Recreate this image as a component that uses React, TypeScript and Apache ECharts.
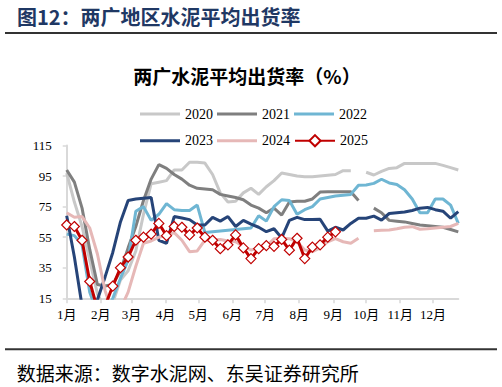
import React, { useEffect, useRef } from 'react';
import * as echarts from 'echarts';

const monthLabels = ['1月', '2月', '3月', '4月', '5月', '6月', '7月', '8月', '9月', '10月', '11月', '12月'];
const monthStartDays = [0, 31, 59, 90, 120, 151, 181, 212, 243, 273, 304, 334];
const yearNames = ['2020', '2021', '2022', '2023', '2024', '2025'];
const yearColors = ['#c8c8c8', '#7f7f7f', '#6fb6d3', '#264478', '#e6b8b7', '#c00000'];

type V = number | null;

const v2020: V[] = [97, 78, 62, 40, 18, 8, 12, 27, 33, 46,
  70, 90, 91, 92, 99, 99, 104, 104, 103.5, 96,
  84, 78, 78.5, 84, 87, 83, 88, 92, 97, 96,
  95, 94.5, 94.5, 95, 95.5, 96, 98.5, 98.5, null, 97.5,
  95.7, 98, 100, 100.5, 103.3, 103.3, 103.3, 103.3, 103.3, 102,
  100.5, 99];
const v2021: V[] = [99, 91, 74, 47, 24, 23, 24, 33, 48, 62,
  79, 93, 102.5, 100, 96, 93, 89, 87, 86.5, 86,
  83, 82, 81, 79.5, 76, 74, 71, 74, 69.5, 78,
  78.5, 78.5, 80, 84.5, 84.8, 84.8, 84.8, 84.8, 79, null,
  74, 71, 66, 65.5, 65, 64, 63, 62.5, 62, 61.5,
  60, 58.5];
const v2022: V[] = [57, 56, 50, 19, 5, 5, 15, 28, 40, 72,
  75, 66, 70, 77, 73, 72.5, 72.5, 76, 58, 58.5,
  59, 59.5, 60, 60.5, 61, 69, 65.5, 75, 79.5, 79,
  70, 73, 75, 80, 81, 82, 82.5, 83, 89, 89.2,
  90.2, 92.9, 90.5, 89.5, 86, 80, 71, 71, 80, 80,
  76, 64];
const v2023: V[] = [69, 42, 10, 0, 14, 29, 45, 65, 79, 80,
  80.5, 81, 53, 51, 68.5, 67.5, 66.5, 63, 63, 68,
  65.5, 68.5, 62, 66, 63.5, 61.5, 58.6, 60.5, 54.5, 66,
  68, 66.5, 66.5, 66.7, 59, 61.5, 59.7, 64, 67.4, 67.4,
  68.8, 66.2, 70.5, 71, 71.5, 72.5, 74, 74.5, 73, 72,
  67.4, 71.7];
const v2024: V[] = [71, 68, 68.5, 61, 44, 20, 5, 8, 19, 36,
  51, 52.5, 55, 56, 58, 53, 45.5, 46, 53, 53.2,
  53.5, 52.5, 52, 49, 46.6, 47.7, 49, 54, 54.3, 54,
  52, 46.6, 45.5, 48, 52, 54, 52, 51, 54.3, null,
  59.2, 59.5, 59.7, 60.5, 61.5, 61.9, 60.2, 60.5, 61, 61.5,
  62, 64];
const v2025: V[] = [63, 62, 53, 26, 8, 10, 23, 35, 42, 53,
  55, 57, 64, 56, 62, 61.5, 56.5, 61, 55, 53,
  47.5, 50, 56.5, 48, 41, 47.5, 49.5, 49, 53.5, 46.5,
  54.3, 41, 48.5, 50, 55, 58.5];

const yearValues = [v2020, v2021, v2022, v2023, v2024, v2025];

const SERIF = "'Liberation Serif', 'Noto Sans CJK SC', serif";
const CJK = "'Noto Sans CJK SC', sans-serif";
const LINE_ICON = 'path://M0,0 L40,0 L40,3 L0,3 Z';

export default function App() {
  const ref = useRef<HTMLDivElement>(null);
  useEffect(() => {
    if (!ref.current) return;
    const chart = echarts.init(ref.current, undefined, { renderer: 'svg' });
    const lastIdx = yearNames.length - 1;
    const series = yearNames.map((name, k) => {
      const vals = yearValues[k];
      const data = vals.map((v, i) => [i * 7, v == null ? '-' : v]);
      const isLast = k === lastIdx;
      return {
        name,
        type: 'line',
        data,
        color: yearColors[k],
        symbol: isLast ? 'diamond' : 'none',
        symbolSize: 10,
        showSymbol: isLast,
        itemStyle: isLast ? { color: '#ffffff', borderColor: yearColors[k], borderWidth: 1.2 } : { color: yearColors[k] },
        lineStyle: { color: yearColors[k], width: 3 },
        connectNulls: false,
        clip: true,
        z: 2 + k,
      };
    });
    const legendText = { fontFamily: SERIF, fontSize: 14, color: '#000' };
    const legendItems = (names: string[]) =>
      names.map((n) => (n === yearNames[lastIdx] ? { name: n } : { name: n, icon: LINE_ICON }));
    const legendBase = { left: 140, itemWidth: 40, itemHeight: 14, itemGap: 4, padding: 0, textStyle: legendText };
    chart.setOption({
      animation: false,
      grid: { left: 66.7, right: 43.7, top: 145.5, bottom: 88.7 },
      legend: [
        { ...legendBase, data: legendItems(yearNames.slice(0, 3)), top: 107 },
        { ...legendBase, data: legendItems(yearNames.slice(3)), top: 133.7 },
      ],
      xAxis: {
        type: 'value',
        min: 0,
        max: 357,
        axisLine: { show: true, onZero: false, lineStyle: { color: '#d9d9d9', width: 2 } },
        axisTick: { show: true, customValues: monthStartDays, length: 5, lineStyle: { color: '#d9d9d9', width: 1.5 } },
        axisLabel: {
          customValues: monthStartDays,
          formatter: (v: number) => {
            const idx = monthStartDays.indexOf(Math.round(v));
            return idx >= 0 ? monthLabels[idx] : '';
          },
          fontSize: 13,
          margin: 10,
          color: '#000',
          fontFamily: SERIF,
        },
        splitLine: { show: false },
      },
      yAxis: {
        type: 'value',
        min: 15,
        max: 115,
        interval: 20,
        axisLine: { show: true, lineStyle: { color: '#d9d9d9', width: 2 } },
        axisTick: { show: true, length: 4, lineStyle: { color: '#d9d9d9', width: 1.5 } },
        axisLabel: { fontSize: 13, margin: 15, color: '#000', fontFamily: SERIF },
        splitLine: { show: false },
      },
      series,
      graphic: [
        {
          type: 'text', x: 17, y: 16,
          style: { text: '图12：两广地区水泥平均出货率', fill: '#1f3864', fontSize: 20, fontWeight: 'bold', fontFamily: CJK, verticalAlign: 'middle', align: 'left' },
        },
        { type: 'rect', shape: { x: 5, y: 32, width: 492, height: 2 }, style: { fill: '#333333' } },
        {
          type: 'text', x: 247, y: 75,
          style: { text: '两广水泥平均出货率（%）', fill: '#000', fontSize: 19, fontWeight: 'bold', fontFamily: CJK, verticalAlign: 'middle', align: 'center' },
        },
        { type: 'rect', shape: { x: 5, y: 348.3, width: 492, height: 2 }, style: { fill: '#333333' } },
        {
          type: 'text', x: 16.7, y: 372,
          style: { text: '数据来源：数字水泥网、东吴证券研究所', fill: '#000', fontSize: 19, fontFamily: CJK, verticalAlign: 'middle', align: 'left' },
        },
      ],
    });
    return () => chart.dispose();
  }, []);
  return <div ref={ref} style={{ position: 'absolute', left: 0, top: 0, width: 502, height: 387 }} />;
}
